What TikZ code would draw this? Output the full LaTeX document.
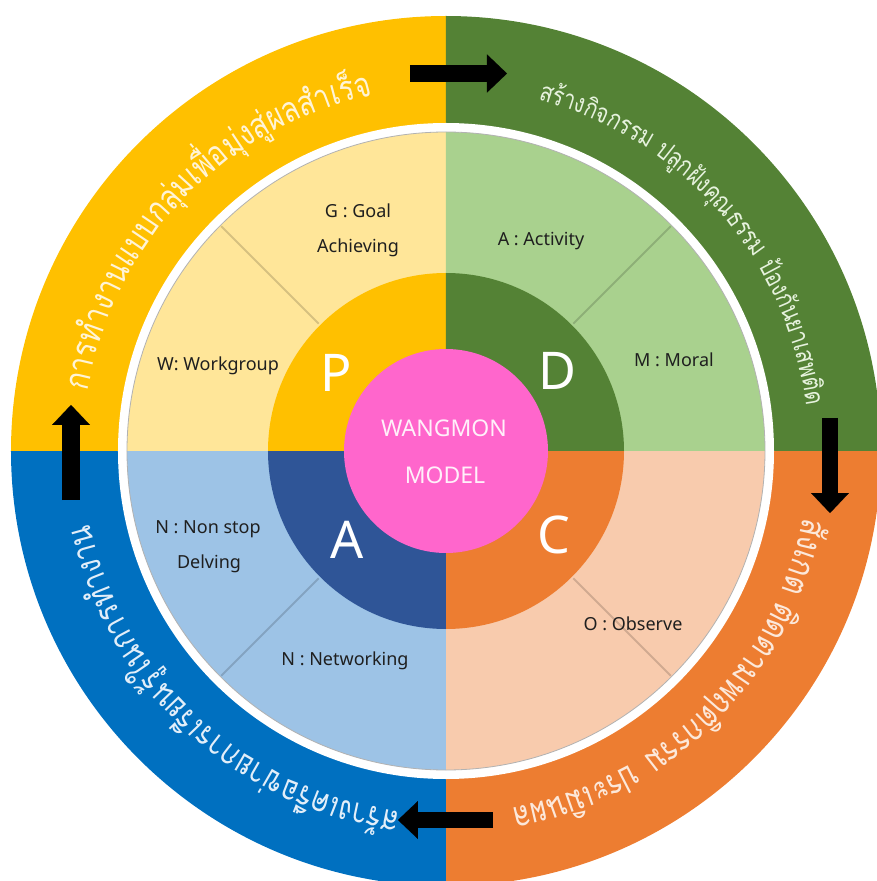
\documentclass[tikz,border=0pt]{standalone}
\usepackage{fontspec}
\setmainfont{Noto Sans}
\newfontfamily\thaifont[Script=Thai,FakeStretch=0.8]{Loma}
\usetikzlibrary{arrows.meta}
\definecolor{oyel}{HTML}{FFC000}
\definecolor{ogrn}{HTML}{548235}
\definecolor{oorg}{HTML}{ED7D31}
\definecolor{oblu}{HTML}{0070C0}
\definecolor{myel}{HTML}{FFE699}
\definecolor{mgrn}{HTML}{A9D18E}
\definecolor{morg}{HTML}{F8CBAD}
\definecolor{mblu}{HTML}{9DC3E6}
\definecolor{iblu}{HTML}{2F5597}
\definecolor{pinkc}{HTML}{FF66CC}
\definecolor{tyel}{HTML}{FFF4D6}
\definecolor{tgrn}{HTML}{E6F2DD}
\definecolor{torg}{HTML}{FCE8DA}
\definecolor{tblu}{HTML}{E2EEF9}
\newcommand\thsp{\hspace*{0.3em}}
\newdimen\totwl
% measure chunks at 20pt: #1 name, #2 list macro
\newcommand\measurethai[2]{%
  \global\totwl=0pt
  \foreach \ch [count=\k] in #2{%
    \setbox0=\hbox{\thaifont\fontsize{20}{24}\selectfont\ch}%
    \global\advance\totwl by \wd0
    \expandafter\xdef\csname w#1\k\endcsname{\the\wd0}%
  }%
  \expandafter\xdef\csname tw#1\endcsname{\the\totwl}%
}
\def\listty{การ,ทำ,งาน,แบบ,กลุ่ม,เพื่อ,มุ่ง,สู่,ผล,สำ,เร็จ}
\def\listtg{สร้าง,กิจ,กรรม,\thsp,ปลูก,ฝัง,คุณ,ธรรม,\thsp,ป้อง,กัน,ยา,เสพ,ติด}
\def\listto{สัง,เกต,\thsp,ติด,ตาม,พฤ,ติ,กรรม,\thsp,ประ,เมิน,ผล}
\def\listtb{สร้าง,เครือ,ข่าย,การ,เรียน,รู้,ใน,การ,ทำ,งาน}
\measurethai{ty}{\listty}
\measurethai{tg}{\listtg}
\measurethai{to}{\listto}
\measurethai{tb}{\listtb}
% #1 radius, #2 start angle, #3 end angle, #4 colour, #5 name, #6 list macro
\newcommand\arcthai[6]{%
  \pgfmathsetmacro\arclen{(#1)/180*pi*((#2)-(#3))}%
  \pgfmathsetmacro\fsc{\arclen/\csname tw#5\endcsname}%
  \pgfmathsetmacro\fsz{20*\fsc}%
  \xdef\curang{#2}%
  \foreach \ch [count=\k] in #6{%
    \pgfmathsetmacro\cw{\csname w#5\k\endcsname*\fsc}%
    \pgfmathsetmacro\midang{\curang-(\cw/(#1))*90/pi}%
    \node[arctxt, text=#4, font={\thaifont\fontsize{\fsz}{\fsz}\selectfont},
          rotate=\midang-90] (#5\k) at (\midang:#1) {\ch};
    \pgfmathsetmacro\nxt{\curang-(\cw/(#1))*180/pi}%
    \xdef\curang{\nxt}%
  }%
}
\begin{document}
\begin{tikzpicture}[x=1pt,y=1pt,
  lab/.style={font=\fontsize{18}{21}\selectfont, text=black!88, anchor=base, inner sep=0},
  big/.style={font=\fontsize{52}{60}\selectfont, text=white, anchor=base, inner sep=0},
  ctr/.style={font=\fontsize{23}{27}\selectfont, text=white!90!pinkc, anchor=base, inner sep=0},
  arctxt/.style={anchor=base, inner sep=0},
  blk/.style={black, -{Triangle[width=38pt,length=20pt,line width=0.1pt]}},
  divl/.style={line width=1.8pt, black, opacity=0.16}]
\useasboundingbox (-446,-430) rectangle (431,451);
% outer ring
\fill[oyel] (0,0) -- (180:435) arc[start angle=180,end angle=90,radius=435] -- cycle;
\fill[ogrn] (0,0) -- (90:435) arc[start angle=90,end angle=0,radius=435] -- cycle;
\fill[oorg] (0,0) -- (0:435) arc[start angle=0,end angle=-90,radius=435] -- cycle;
\fill[oblu] (0,0) -- (-90:435) arc[start angle=-90,end angle=-180,radius=435] -- cycle;
\fill[white] (0,0) circle[radius=328];
% middle ring
\fill[myel] (0,0) -- (180:319) arc[start angle=180,end angle=90,radius=319] -- cycle;
\fill[mgrn] (0,0) -- (90:319) arc[start angle=90,end angle=0,radius=319] -- cycle;
\fill[morg] (0,0) -- (0:319) arc[start angle=0,end angle=-90,radius=319] -- cycle;
\fill[mblu] (0,0) -- (-90:319) arc[start angle=-90,end angle=-180,radius=319] -- cycle;
\draw[black!30, line width=0.8pt] (0,0) circle[radius=319];
\foreach \a in {45,135,225,315} \draw[divl] (\a:180) -- (\a:318);
% inner ring
\fill[oyel] (0,0) -- (180:178) arc[start angle=180,end angle=90,radius=178] -- cycle;
\fill[ogrn] (0,0) -- (90:178) arc[start angle=90,end angle=0,radius=178] -- cycle;
\fill[oorg] (0,0) -- (0:178) arc[start angle=0,end angle=-90,radius=178] -- cycle;
\fill[iblu] (0,0) -- (-90:178) arc[start angle=-90,end angle=-180,radius=178] -- cycle;
\fill[pinkc] (0,0) circle[radius=102];
% labels
\node[lab] (g1) at (-88,233) {G : Goal};
\node[lab] (g2) at (-88,198) {Achieving};
\node[lab] (act) at (95,205) {A : Activity};
\node[lab] (mor) at (228,84) {M : Moral};
\node[lab] (wk) at (-228,80) {W: Workgroup};
\node[lab] (ns1) at (-238,-82) {N : Non stop};
\node[lab] (ns2) at (-237,-117) {Delving};
\node[lab] (net) at (-101,-214) {N : Networking};
\node[lab] (obs) at (187,-179) {O : Observe};
\node[big] (pP) at (-110,59) {P};
\node[big] (pD) at (111,61) {D};
\node[big] (pA) at (-99,-107) {A};
\node[big] (pC) at (108,-102) {C};
\node[ctr] (w1) at (-2,14) {WANGMON};
\node[ctr] (w2) at (-1,-32) {MODEL};
% texts along the outer ring
\arcthai{363}{170.6}{101.6}{tyel}{ty}{\listty}
\arcthai{363}{75.3}{7.1}{tgrn}{tg}{\listtg}
\arcthai{363}{-10.5}{-79.6}{torg}{to}{\listto}
\arcthai{363}{-97.2}{-168.4}{tblu}{tb}{\listtb}
% arrows
\coordinate (at1) at (-36,377.5); \coordinate (at2) at (61,377.5);
\draw[blk, line width=17pt] (at1) -- (at2);
\coordinate (ar1) at (384,33); \coordinate (ar2) at (384,-62);
\draw[blk, line width=16pt] (ar1) -- (ar2);
\coordinate (ab1) at (47,-369); \coordinate (ab2) at (-48,-369);
\draw[blk, line width=16pt] (ab1) -- (ab2);
\coordinate (al1) at (-375,-49); \coordinate (al2) at (-375,46);
\draw[blk, line width=18pt] (al1) -- (al2);
\end{tikzpicture}
\end{document}
